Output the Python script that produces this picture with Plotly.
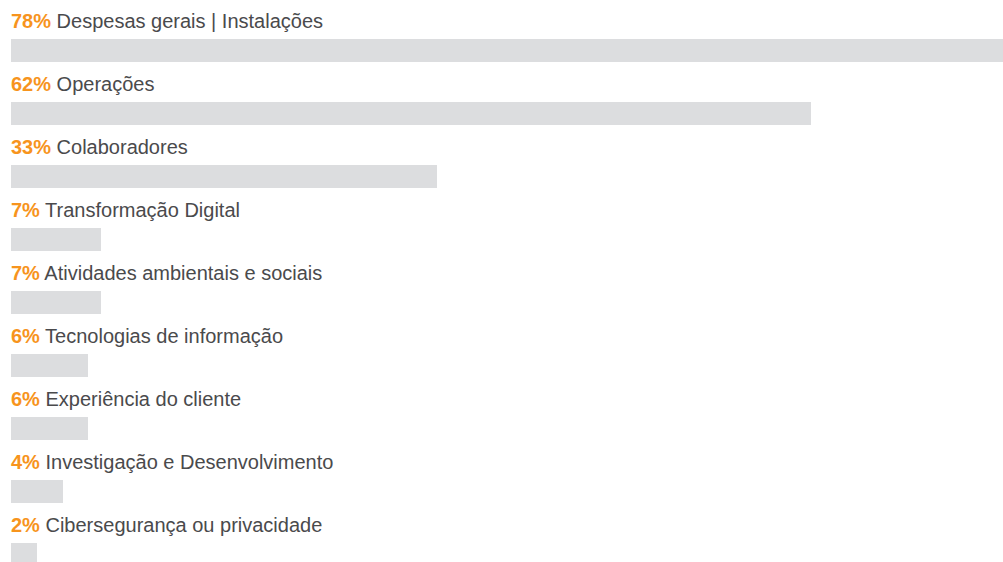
import plotly.graph_objects as go

# Share of respondents by investment area (%)
categories = [
    "Despesas gerais | Instalações",
    "Operações",
    "Colaboradores",
    "Transformação Digital",
    "Atividades ambientais e sociais",
    "Tecnologias de informação",
    "Experiência do cliente",
    "Investigação e Desenvolvimento",
    "Cibersegurança ou privacidade",
]
values = [78, 62, 33, 7, 7, 6, 6, 4, 2]

BAR_COLOR = "#DCDDDF"
PCT_COLOR = "#F7941D"
TEXT_COLOR = "#4A4A4C"
FONT = "Liberation Sans, Arial, Helvetica, sans-serif"

W, H = 1003, 562
LEFT = 11
PITCH = 63          # px between bar rows
FIRST_CENTER = 50.5 # px from top to centre of first bar
BAR_PX = 23
PX_PER_PCT = 12.9

idx = list(range(len(categories)))

fig = go.Figure(
    go.Bar(
        x=values,
        y=idx,
        orientation="h",
        marker=dict(color=BAR_COLOR, line=dict(width=0)),
        width=BAR_PX / PITCH,
        hoverinfo="skip",
    )
)

y_top = -FIRST_CENTER / PITCH
y_bottom = y_top + H / PITCH

for i, (cat, v) in enumerate(zip(categories, values)):
    fig.add_annotation(
        x=0,
        y=i - 30 / PITCH,
        xref="x",
        yref="y",
        xanchor="left",
        yanchor="middle",
        showarrow=False,
        align="left",
        text=f"<b><span style='color:{PCT_COLOR}'>{v}%</span></b> {cat}",
        font=dict(family=FONT, size=20, color=TEXT_COLOR),
        xshift=-2,
    )

fig.update_layout(
    width=W,
    height=H,
    margin=dict(l=LEFT, r=0, t=0, b=0),
    paper_bgcolor="white",
    plot_bgcolor="white",
    showlegend=False,
    bargap=0,
    xaxis=dict(
        range=[0, (W - LEFT) / PX_PER_PCT],
        visible=False,
        fixedrange=True,
    ),
    yaxis=dict(
        range=[y_bottom, y_top],
        visible=False,
        fixedrange=True,
    ),
)

fig.write_html("out.html", config={"displayModeBar": False})
